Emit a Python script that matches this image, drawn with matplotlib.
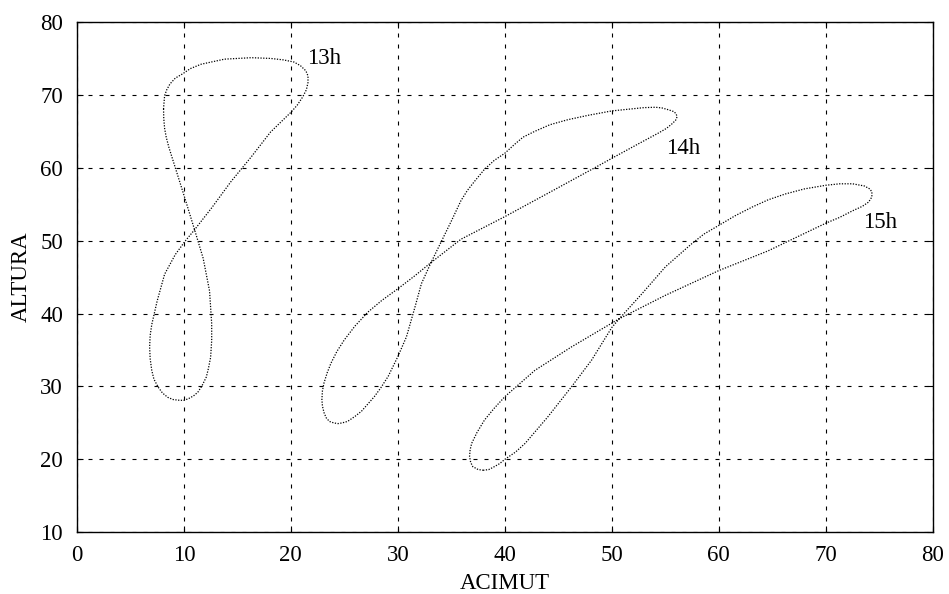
import matplotlib.pyplot as plt

plt.rcParams['font.family'] = ['Liberation Serif', 'DejaVu Serif']

# 13h
az13 = [8.1, 8.12, 8.2, 8.35, 8.6, 8.9, 9.2, 10.1, 11.0, 11.8, 12.4, 12.6, 12.6, 12.5, 12.3,
        12.1, 11.7, 11.3, 10.9, 10.4, 10.0, 9.6, 9.0, 8.5, 8.0, 7.6, 7.2, 7.0, 6.85, 6.8,
        6.85, 7.0, 7.5, 8.2, 9.2, 10.1, 11.0, 12.6, 14.4, 16.3, 18.1, 20.0, 20.6, 21.1,
        21.45, 21.6, 21.6, 21.4, 20.9, 20.3, 19.3, 18.1, 16.3, 13.8, 11.6, 10.6, 9.9, 9.2,
        8.7, 8.4, 8.2, 8.1]
alt13 = [68.1, 66.8, 65.4, 64.2, 62.8, 61.4, 60.0, 55.8, 51.5, 47.6, 43.1, 38.6, 36.3, 34.0, 32.5,
         31.3, 30.1, 29.2, 28.7, 28.3, 28.1, 28.1, 28.2, 28.5, 29.1, 29.9, 31.0, 32.2, 33.8, 35.4,
         37.0, 38.5, 41.7, 45.4, 48.1, 49.9, 51.5, 54.5, 58.1, 61.5, 64.9, 67.6, 68.6, 69.7,
         70.7, 71.7, 72.6, 73.3, 74.0, 74.5, 74.8, 75.0, 75.1, 74.9, 74.2, 73.6, 72.9, 72.3,
         71.5, 70.7, 69.9, 68.1]

# 14h
az14 = [33.1, 35.9, 40.0, 44.4, 48.4, 50.0, 52.5, 54.4, 55.1, 55.6, 55.95, 56.1, 56.0,
        55.8, 55.3, 54.7, 54.1, 53.0, 52.0, 50.0, 47.8, 45.9, 44.2, 42.8, 41.7, 40.9, 40.0,
        39.0, 38.1, 37.2, 36.5, 35.9, 35.0, 34.1, 33.1, 32.2, 31.6, 30.8, 30.0, 29.1, 28.4,
        27.8, 27.2, 26.6, 26.0, 25.3, 24.8, 24.4, 24.0, 23.6, 23.3, 23.1, 22.95, 22.9, 22.95,
        23.1, 23.4, 23.75, 24.3, 25.0, 26.0, 27.2, 28.5, 30.0, 31.6, 33.1]
alt14 = [47.0, 50.2, 53.3, 56.8, 60.0, 61.3, 63.3, 64.8, 65.4, 66.0, 66.5, 67.0, 67.4,
         67.7, 67.95, 68.2, 68.3, 68.25, 68.1, 67.8, 67.2, 66.6, 65.9, 65.0, 64.2, 63.2, 62.0,
         61.0, 59.8, 58.2, 56.9, 55.5, 52.7, 50.0, 47.0, 44.1, 40.9, 36.8, 34.1, 31.4, 29.8,
         28.6, 27.6, 26.6, 25.9, 25.2, 25.0, 24.9, 25.0, 25.2, 25.7, 26.4, 27.3, 28.2, 29.4,
         30.5, 31.9, 33.2, 34.8, 36.4, 38.3, 40.2, 41.8, 43.4, 45.2, 47.0]

# 15h
az15 = [38.0, 37.5, 37.0, 36.8, 36.7, 36.75, 36.9, 37.4, 38.1, 39.0, 40.0, 42.8, 46.2,
        50.7, 55.0, 60.0, 64.6, 70.0, 71.3, 72.5, 73.4, 74.0, 74.3, 74.3, 74.1, 73.6, 72.5,
        71.3, 70.0, 68.0, 66.2, 64.6, 63.1, 61.5, 60.0, 58.6, 57.4, 55.0, 52.8, 50.7, 50.0,
        48.1, 46.2, 44.0, 41.9, 41.0, 40.0, 39.5, 38.9, 38.5, 38.0]
alt15 = [18.5, 18.6, 19.0, 19.6, 20.4, 21.3, 22.2, 23.7, 25.4, 27.0, 28.6, 32.2, 35.4,
         39.3, 42.5, 45.9, 48.6, 52.4, 53.2, 54.1, 54.7, 55.3, 56.0, 56.7, 57.1, 57.5, 57.8,
         57.8, 57.6, 57.1, 56.4, 55.6, 54.6, 53.4, 52.1, 50.9, 49.5, 46.4, 42.7, 39.3, 38.1,
         33.6, 29.9, 25.8, 22.2, 21.0, 20.0, 19.4, 18.9, 18.6, 18.5]

labels = ['13h', '14h', '15h']
label_x = [21.5, 55.1, 73.5]
label_y = [74.2, 61.9, 51.7]

fig = plt.figure(figsize=(9.49, 5.94), dpi=100)
ax = fig.add_axes([0.081, 0.104, 0.902, 0.859])

for az, alt in [(az13, alt13), (az14, alt14), (az15, alt15)]:
    ax.plot(az, alt, color='black', linestyle=(0, (1, 1.2)), linewidth=0.9)

for t, x, y in zip(labels, label_x, label_y):
    ax.text(x, y, t, fontsize=16.5, ha='left', va='baseline')

ax.set_xlim(0, 80)
ax.set_ylim(10, 80)
ax.set_xticks(range(0, 81, 10))
ax.set_yticks(range(10, 81, 10))
ax.grid(True, color='black', linestyle=(0, (3.6, 6.3)), linewidth=0.8)
ax.tick_params(direction='in', length=4, width=0.8, top=True, right=True, labelsize=16.5)
ax.tick_params(axis='x', pad=9)
ax.tick_params(axis='y', pad=10)
for s in ax.spines.values():
    s.set_linewidth(1.0)

ax.set_xlabel('ACIMUT', fontsize=16.5, labelpad=5)
ax.set_ylabel('ALTURA', fontsize=16.5, labelpad=6)

fig.savefig('out.png', dpi=100)
